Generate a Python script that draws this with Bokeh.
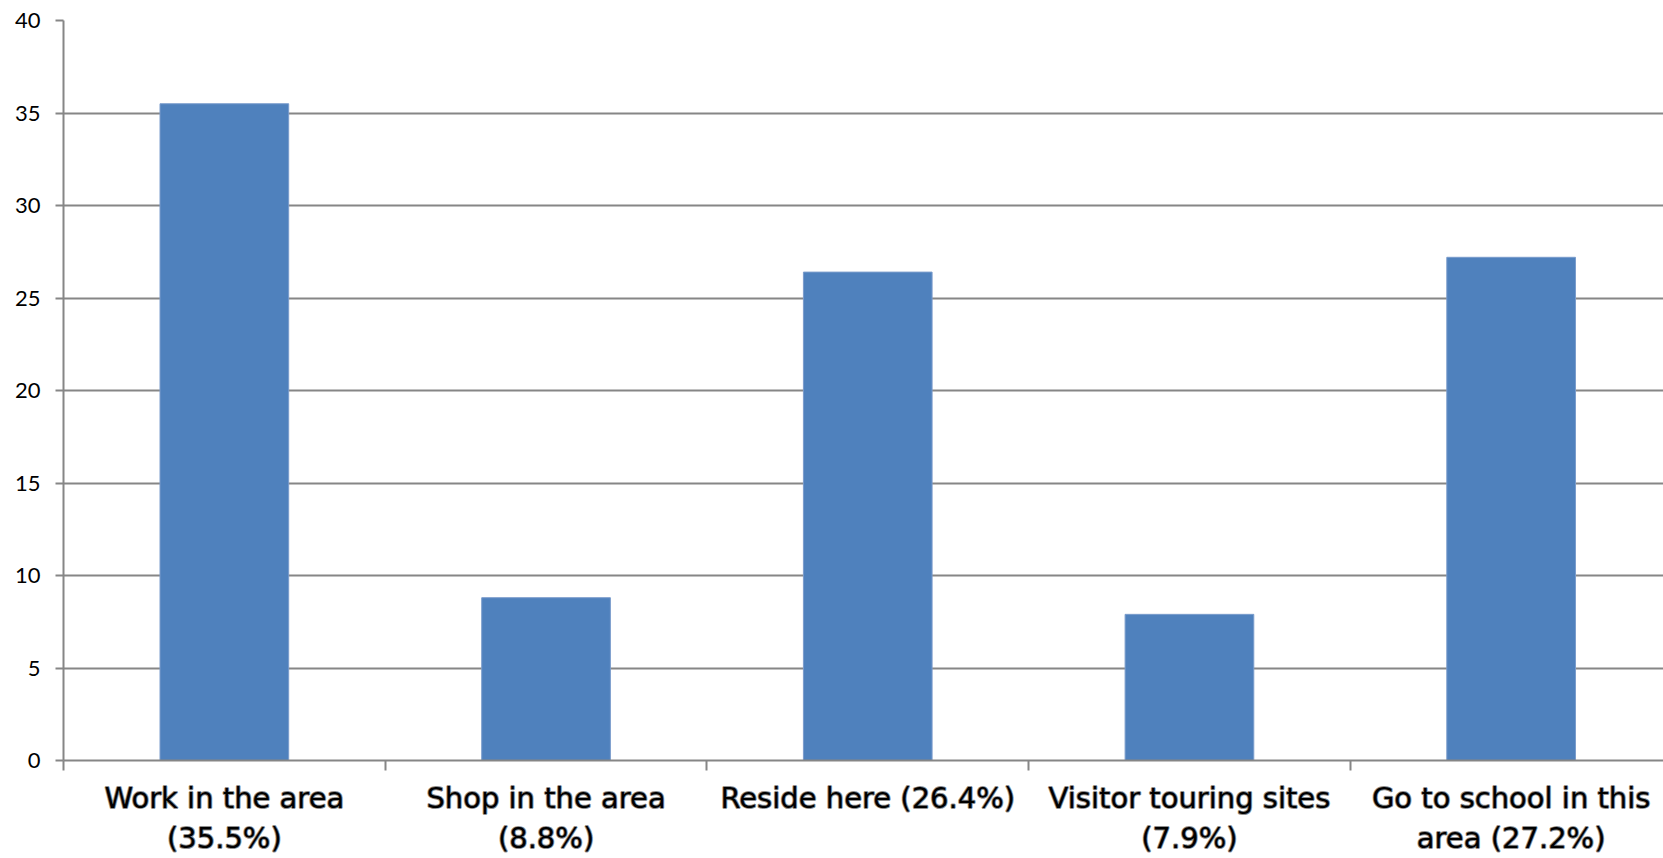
from bokeh.plotting import figure
from bokeh.models import Range1d, FixedTicker, ColumnDataSource
from bokeh.embed import file_html
from bokeh.resources import INLINE

categories = ["Work in the area\n(35.5%)", "Shop in the area\n(8.8%)", "Reside here (26.4%)",
              "Visitor touring sites\n(7.9%)", "Go to school in this\narea (27.2%)"]
values = [35.5, 8.8, 26.4, 7.9, 27.2]
y_ticks = [0, 5, 10, 15, 20, 25, 30, 35, 40]

positions = list(range(len(categories)))
src = ColumnDataSource(dict(x=positions, top=values))

p = figure(width=1663, height=858, output_backend="svg", toolbar_location=None,
           x_range=Range1d(-0.5, 4.4736), y_range=Range1d(0, 40))
p.min_border_left = 63
p.min_border_right = 0
p.min_border_top = 20
p.min_border_bottom = 98
p.outline_line_color = None
p.background_fill_color = "white"
p.border_fill_color = "white"

p.vbar(x="x", top="top", width=0.4, bottom=0, source=src,
       fill_color="#4F81BD", line_color="#7a9ccc", line_width=1)

# y axis
p.yaxis.ticker = FixedTicker(ticks=y_ticks)
p.yaxis.axis_line_color = "#868686"
p.yaxis.axis_line_width = 2
p.yaxis.major_tick_line_color = "#868686"
p.yaxis.major_tick_line_width = 2
p.yaxis.major_tick_out = 8
p.yaxis.major_tick_in = 0
p.yaxis.minor_tick_line_color = None
p.yaxis.major_label_text_font = "Lato"
p.yaxis.major_label_text_font_size = "22px"
p.yaxis.major_label_text_color = "black"
p.yaxis.major_label_standoff = 15

# x axis
p.xaxis.ticker = FixedTicker(ticks=positions, minor_ticks=[-0.5, 0.5, 1.5, 2.5, 3.5])
p.xaxis.major_label_overrides = {i: c for i, c in zip(positions, categories)}
p.xaxis.axis_line_color = "#868686"
p.xaxis.axis_line_width = 2
p.xaxis.major_tick_line_color = None
p.xaxis.minor_tick_line_color = "#868686"
p.xaxis.minor_tick_line_width = 2
p.xaxis.minor_tick_out = 10
p.xaxis.minor_tick_in = 0
p.xaxis.major_label_text_font = "DejaVu Sans"
p.xaxis.major_label_text_font_size = "29px"
p.xaxis.major_label_text_color = "black"
p.xaxis.major_label_text_outline_color = "rgba(0,0,0,0.45)"
p.xaxis.major_label_standoff = 10

p.xgrid.grid_line_color = None
p.ygrid.ticker = FixedTicker(ticks=y_ticks)
p.ygrid.grid_line_color = "#868686"
p.ygrid.grid_line_width = 2

open("out.html", "w").write(file_html(p, INLINE))
